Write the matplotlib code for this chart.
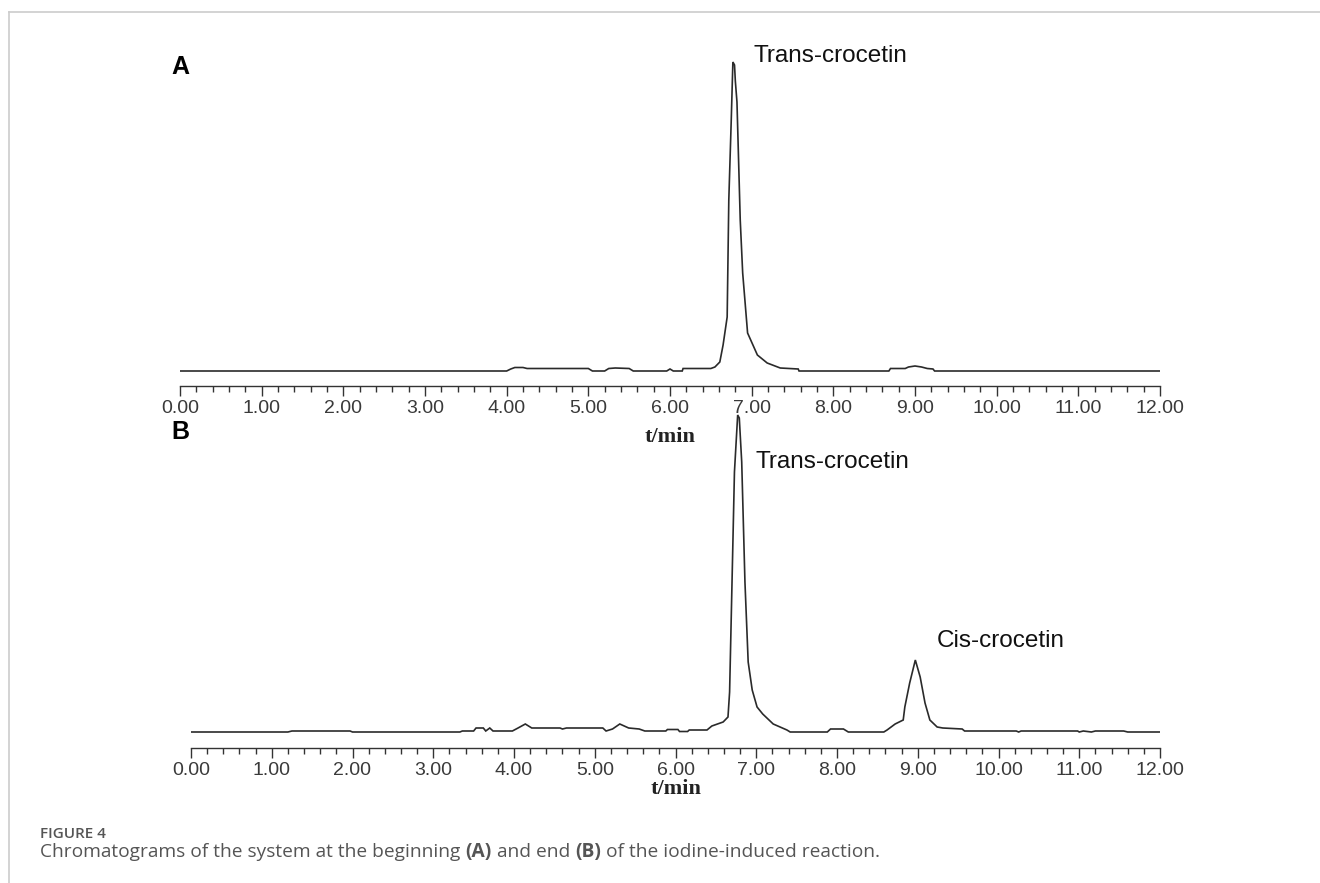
import matplotlib
matplotlib.use("Agg")
import matplotlib.pyplot as plt
from matplotlib.ticker import MultipleLocator, FormatStrFormatter
from matplotlib.lines import Line2D

# ---- data (time in min, signal in arbitrary units) ----
time_A = [0.00, 4.00, 4.05, 4.10, 4.20, 4.25, 5.00, 5.05, 5.20, 5.25, 5.33, 5.50, 5.55,
          5.96, 6.00, 6.04, 6.15, 6.16, 6.50, 6.55, 6.61, 6.65, 6.70, 6.72, 6.75, 6.77,
          6.79, 6.80, 6.82, 6.86, 6.89, 6.95, 7.07, 7.19, 7.35, 7.57, 7.58, 8.68, 8.70,
          8.88, 8.92, 9.00, 9.08, 9.15, 9.22, 9.24, 12.00]
signal_A = [0, 0, 2, 3.5, 3.5, 2.5, 2.5, 0, 0, 2.5, 3, 2.5, 0,
            0, 2, 0, 0, 2.5, 2.5, 4, 9, 26, 54, 171, 251, 309,
            306, 290, 269, 151, 98, 38, 16, 8, 3, 2, 0, 0, 2.5,
            2.5, 4, 5, 4, 2.5, 2, 0, 0]

time_B = [0.00, 1.20, 1.25, 1.97, 2.00, 3.33, 3.36, 3.50, 3.53, 3.62, 3.65, 3.70, 3.74,
          3.98, 4.05, 4.14, 4.22, 4.57, 4.60, 4.65, 5.10, 5.14, 5.22, 5.31, 5.42, 5.55,
          5.62, 5.88, 5.90, 6.03, 6.05, 6.15, 6.17, 6.39, 6.45, 6.59, 6.65, 6.67, 6.70,
          6.73, 6.77, 6.79, 6.82, 6.86, 6.90, 6.95, 7.01, 7.08, 7.21, 7.38, 7.42, 7.88,
          7.92, 8.08, 8.14, 8.58, 8.62, 8.72, 8.82, 8.84, 8.90, 8.97, 9.03, 9.09, 9.15,
          9.24, 9.31, 9.55, 9.58, 10.22, 10.25, 10.28, 10.98, 11.00, 11.05, 11.15, 11.20,
          11.55, 11.60, 12.00]
signal_B = [0, 0, 1, 1, 0, 0, 1, 1, 4, 4, 1, 4, 1,
            1, 4, 8, 4, 4, 3, 4, 4, 1, 3, 8, 4, 3,
            1, 1, 2.5, 2.5, 0.5, 0.5, 2, 2, 6, 10, 15, 40, 150,
            260, 317, 314, 270, 150, 70, 42, 25, 18, 8, 2, 0, 0,
            3, 3, 0, 0, 2, 8, 12, 25, 49, 72, 55, 29, 12,
            5, 4, 3, 1, 1, 0, 1, 1, 0, 1, 0, 1,
            1, 0, 0]

tick_values = [0, 1, 2, 3, 4, 5, 6, 7, 8, 9, 10, 11, 12]
x_label = "t/min"
panel_labels = ["A", "B"]
peak_names_A = [("Trans-crocetin", 6.77)]
peak_names_B = [("Trans-crocetin", 6.77), ("Cis-crocetin", 8.97)]
caption_head = "FIGURE 4"
caption_text = ("Chromatograms of the system at the beginning ", "(A)", " and end ", "(B)",
                " of the iodine-induced reaction.")

W, H = 1320, 883
fig = plt.figure(figsize=(W / 100, H / 100), dpi=100)
fig.patch.set_facecolor("white")

def px_axes(x0, x1, ybot, ytop):
    return fig.add_axes([x0 / W, 1 - ybot / H, (x1 - x0) / W, (ybot - ytop) / H])

axA = px_axes(180, 1160, 386, 50)
axB = px_axes(191, 1160, 748, 400)
axA.set_ylim(-15, 321)
axB.set_ylim(-16, 332)

line_col = "#2a2a2a"
for ax, t, s in [(axA, time_A, signal_A), (axB, time_B, signal_B)]:
    ax.plot(t, s, color=line_col, lw=1.2, solid_joinstyle="miter")
    ax.set_xlim(0, 12)
    for sp in ["top", "left", "right"]:
        ax.spines[sp].set_visible(False)
    ax.spines["bottom"].set_color("#333333")
    ax.spines["bottom"].set_linewidth(1.0)
    ax.set_yticks([])
    ax.xaxis.set_minor_locator(MultipleLocator(0.2))
    ax.set_xticks(tick_values)
    ax.xaxis.set_major_formatter(FormatStrFormatter("%.2f"))
    ax.tick_params(axis="x", which="major", length=7, width=1.0, color="#333333",
                   direction="out", pad=3, labelsize=14, labelcolor="#3a3a3a")
    ax.tick_params(axis="x", which="minor", length=4, width=1.0, color="#333333",
                   direction="out")
    for lbl in ax.get_xticklabels():
        lbl.set_family("Liberation Sans")
    ax.patch.set_alpha(0)

# x labels
fig.text(670 / W, 1 - 437 / H, x_label, ha="center", va="center",
         family="Liberation Serif", fontweight="bold", fontsize=16, color="#222222")
fig.text(676 / W, 1 - 789 / H, x_label, ha="center", va="center",
         family="Liberation Serif", fontweight="bold", fontsize=16, color="#222222")

# panel labels
fig.text(180 / W, 1 - 67 / H, panel_labels[0], ha="center", va="center",
         family="Liberation Sans", fontweight="bold", fontsize=18, color="black")
fig.text(180 / W, 1 - 432 / H, panel_labels[1], ha="center", va="center",
         family="Liberation Sans", fontweight="bold", fontsize=18, color="black")

# peak names
fig.text(753 / W, 1 - 56 / H, peak_names_A[0][0], ha="left", va="center",
         family="Liberation Sans", fontsize=17.5, color="#111111")
fig.text(756 / W, 1 - 462 / H, peak_names_B[0][0], ha="left", va="center",
         family="Liberation Sans", fontsize=17.5, color="#111111")
fig.text(937 / W, 1 - 641 / H, peak_names_B[1][0], ha="left", va="center",
         family="Liberation Sans", fontsize=17.5, color="#111111")

# border lines
fig.add_artist(Line2D([9 / W, 1.0], [1 - 12 / H, 1 - 12 / H], transform=fig.transFigure,
                      color="#cccccc", lw=1.2))
fig.add_artist(Line2D([9 / W, 9 / W], [1 - 12 / H, 0.0], transform=fig.transFigure,
                      color="#cccccc", lw=1.2))

# caption
fig.text(40 / W, 1 - 834 / H, caption_head, ha="left", va="center",
         family="Open Sans", fontweight="semibold", fontsize=11, color="#555555")
x = 40
renderer = fig.canvas.get_renderer()
for i, part in enumerate(caption_text):
    bold = part.startswith("(")
    t = fig.text(x / W, 1 - 852 / H, part, ha="left", va="center",
                 family="Open Sans", fontweight="bold" if bold else "normal",
                 fontsize=13.8, color="#555555")
    bb = t.get_window_extent(renderer=renderer)
    x += bb.width

fig.savefig("out.png", dpi=100, facecolor="white")
